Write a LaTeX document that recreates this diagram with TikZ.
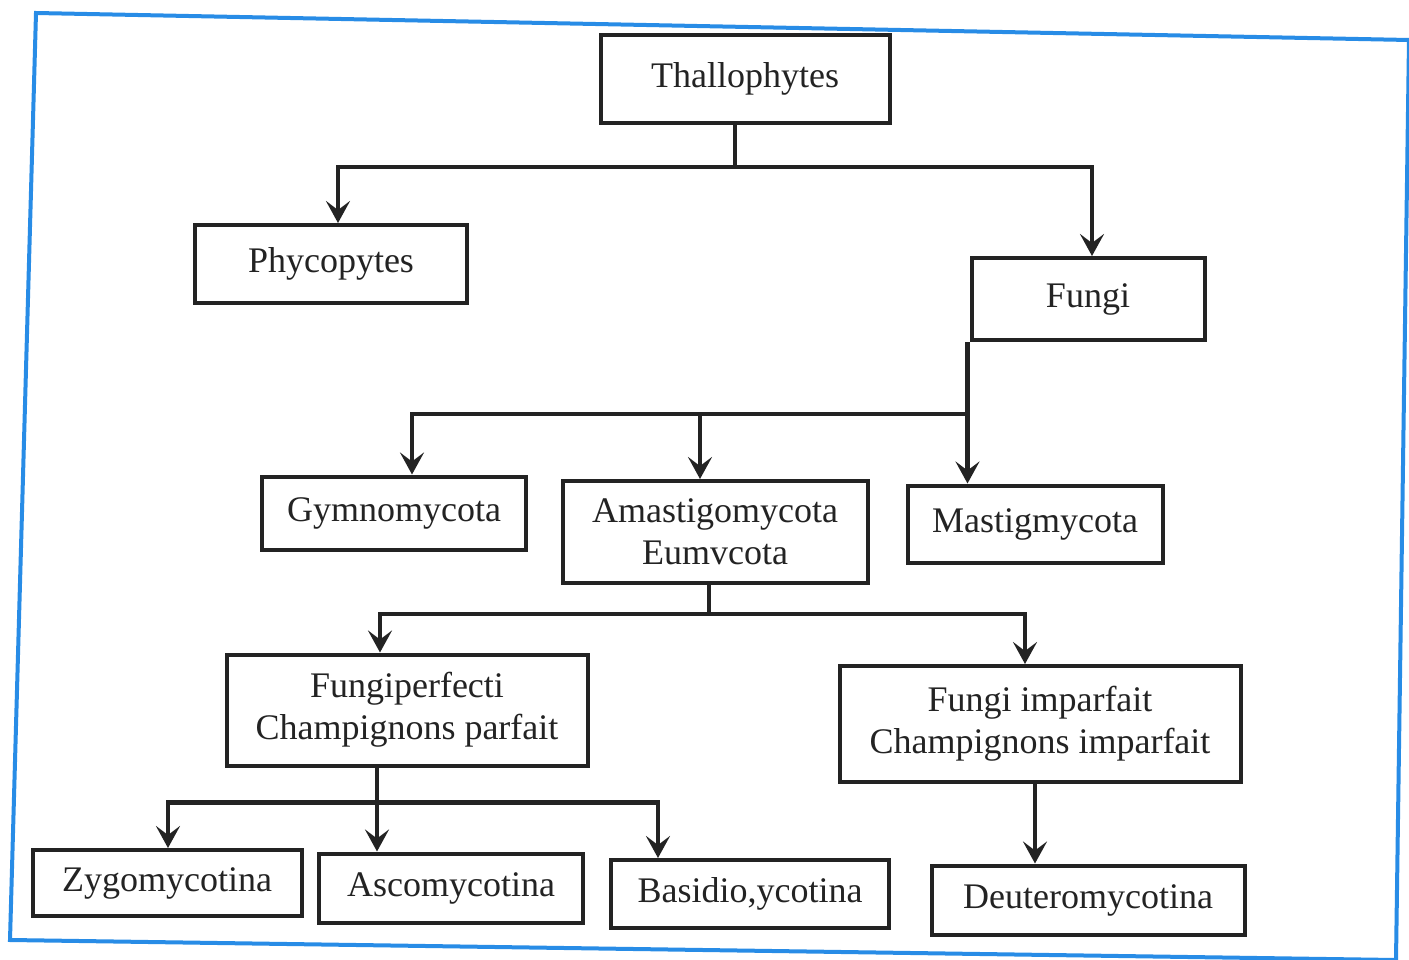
\documentclass[tikz,border=0pt]{standalone}
\usepackage{fontspec}
\setmainfont{Liberation Serif}
\usetikzlibrary{arrows.meta,calc}
\definecolor{framebl}{RGB}{40,140,230}
\definecolor{ink}{RGB}{35,35,35}
\begin{document}
\begin{tikzpicture}[x=1pt,y=-1pt,
  box/.style={draw=ink,line width=4pt,fill=white,inner sep=2pt,align=center,
    font=\fontsize{36}{42}\selectfont,text=ink},
  conn/.style={draw=ink,line width=4.2pt},
  arr/.style={conn,-{Stealth[length=22pt,width=24pt,inset=9pt]}}]
\useasboundingbox (0,0) rectangle (1409,960);
\fill[white] (0,0) rectangle (1409,960);
\draw[framebl,line width=4pt] (36,13) -- (1409,40) -- (1396,960) -- (10,940) -- cycle;

\node[box,minimum width=289pt,minimum height=88pt] (thal) at (745,79) {Thallophytes};
\node[box,minimum width=272pt,minimum height=78pt] (phyco) at (331,264) {Phycopytes};
\node[box,minimum width=233pt,minimum height=82pt] (fungi) at (1088,299) {Fungi};
\node[box,minimum width=264pt,minimum height=73pt] (gymno) at (394,513) {Gymnomycota};
\node[box,minimum width=305pt,minimum height=102pt] (amast) at (715,532) {Amastigomycota\\Eumvcota};
\node[box,minimum width=255pt,minimum height=77pt] (mastig) at (1035,524) {Mastigmycota};
\node[box,minimum width=361pt,minimum height=111pt] (fperf) at (407,710) {Fungiperfecti\\Champignons parfait};
\node[box,minimum width=401pt,minimum height=116pt] (fimp) at (1040,724) {Fungi imparfait\\Champignons imparfait};
\node[box,minimum width=269pt,minimum height=66pt] (zygo) at (167,883) {Zygomycotina};
\node[box,minimum width=264pt,minimum height=69pt] (asco) at (451,888) {Ascomycotina};
\node[box,minimum width=278pt,minimum height=68pt] (basid) at (750,894) {Basidio,ycotina};
\node[box,minimum width=313pt,minimum height=69pt] (deut) at (1088,900) {Deuteromycotina};

% Thallophytes
\draw[conn] ([xshift=-10pt]thal.south) -- ++(0,42) coordinate (j1);
\draw[arr] (j1) -| ([xshift=7pt]phyco.north);
\draw[arr] (j1) -| ([xshift=4pt]fungi.north);

% Fungi
\draw[arr] ([xshift=-2pt]fungi.south west) -- ([xshift=-2pt]fungi.south west |- mastig.north);
\coordinate (j2) at ($(fungi.south west)+(-2,72)$);
\draw[arr] (j2) -| ([xshift=18pt]gymno.north);
\draw[arr] ([xshift=-15pt]amast.north |- j2) -- ([xshift=-15pt]amast.north);

% Amastigomycota
\draw[conn] ([xshift=-6pt]amast.south) -- ++(0,29) coordinate (j3);
\draw[arr] (j3) -| ([xshift=-27pt]fperf.north);
\draw[arr] (j3) -| ([xshift=-15pt]fimp.north);

% Fungiperfecti
\draw[arr] ([xshift=-30pt]fperf.south) -- ([xshift=-30pt]fperf.south |- asco.north);
\coordinate (j4) at ($([xshift=-30pt]fperf.south)+(0,35)$);
\draw[arr] (j4) -| ([xshift=1pt]zygo.north);
\draw[arr] (j4) -| ([xshift=-92pt]basid.north);

% Fungi imparfait
\draw[arr] ([xshift=-5pt]fimp.south) -- ([xshift=-5pt]fimp.south |- deut.north);
\end{tikzpicture}
\end{document}
